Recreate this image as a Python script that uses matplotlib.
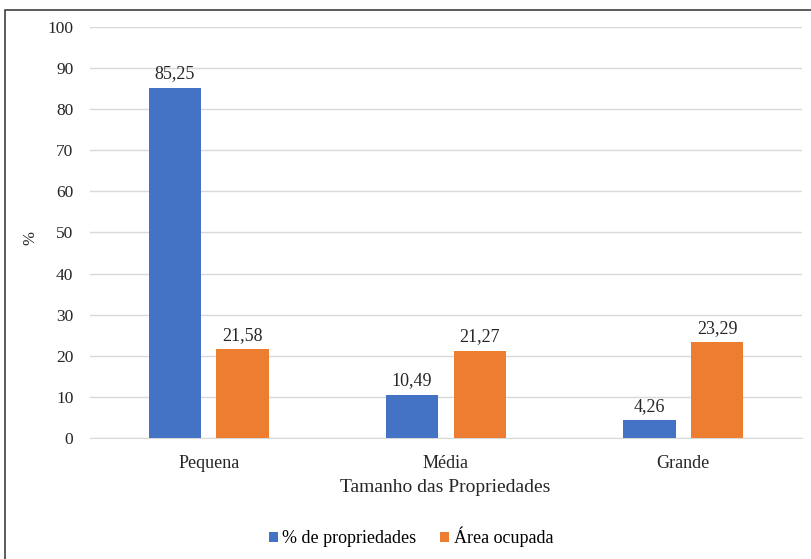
import numpy as np
from matplotlib import pyplot as plt
from matplotlib.patches import Rectangle

# Dados por tamanho de propriedade
categorias = ["Pequena", "Média", "Grande"]
pct_propriedades = [85.25, 10.49, 4.26]
area_ocupada = [21.58, 21.27, 23.29]

azul = "#4472C4"
laranja = "#ED7D31"

plt.rcParams['font.family'] = ['Liberation Serif', 'DejaVu Serif']

fig = plt.figure(figsize=(8.12, 5.59), dpi=100)
ax = fig.add_axes([90 / 812, 1 - 438 / 559, 712 / 812, 411 / 559])

x = np.arange(len(categorias))
largura = 0.22
desloc = 0.143

b1 = ax.bar(x - desloc, pct_propriedades, largura, color=azul, label="% de propriedades", zorder=3)
b2 = ax.bar(x + desloc, area_ocupada, largura, color=laranja, label="Área ocupada", zorder=3)

# rótulos com vírgula decimal
for barras, valores in ((b1, pct_propriedades), (b2, area_ocupada)):
    for r, v in zip(barras, valores):
        ax.annotate(f"{v:.2f}".replace(".", ","), (r.get_x() + r.get_width() / 2, v),
                    xytext=(0, 4), textcoords="offset points",
                    ha="center", va="bottom", fontsize=13, color="#262626")

ax.set_xlim(-0.5, 2.5)
ax.set_ylim(0, 100)
ax.set_yticks(np.arange(0, 101, 10))
ax.set_xticks(x)
ax.set_xticklabels(categorias)
ax.tick_params(axis="both", length=0, labelsize=12.5, colors="#262626")
ax.tick_params(axis="x", labelsize=13, pad=12)
ax.tick_params(axis="y", pad=12)

ax.grid(axis="y", color="#d9d9d9", linewidth=1, zorder=0)
for s in ("top", "right", "left"):
    ax.spines[s].set_visible(False)
ax.spines["bottom"].set_color("#d9d9d9")

fig.text(30 / 812, 1 - 238 / 559, "%", rotation=90, ha="center", va="center",
         fontsize=12, color="#262626")
fig.text(445 / 812, 1 - 488 / 559, "Tamanho das Propriedades", ha="center", va="center",
         fontsize=14, color="#262626")

fig.legend(loc="center", bbox_to_anchor=(411 / 812, 1 - 537 / 559), ncol=2, frameon=False,
           fontsize=13, handlelength=0.5, handleheight=0.5, handletextpad=0.25,
           columnspacing=1.3)

# moldura do gráfico
fig.patches.append(Rectangle((5 / 812, -0.05), 1.1, 1 - 10 / 559 + 0.05,
                             transform=fig.transFigure, fill=False,
                             edgecolor="#404040", linewidth=1.2))

fig.savefig("out.png", dpi=100)
